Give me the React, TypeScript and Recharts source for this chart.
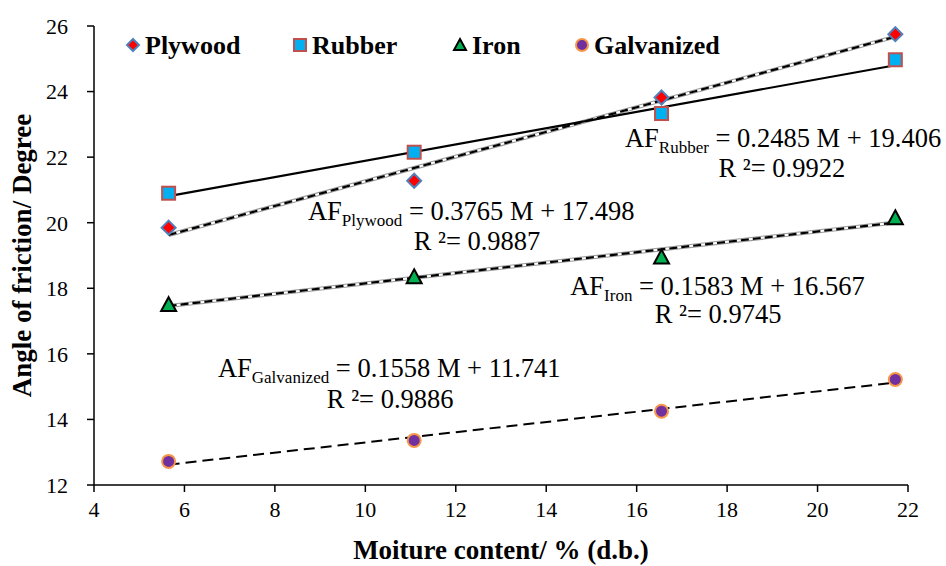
import React from 'react';
import {
  ComposedChart,
  Scatter,
  Line,
  XAxis,
  YAxis,
  ReferenceDot,
  Label,
} from 'recharts';

// moisture levels (% d.b.) and measured angle of friction (degree) per surface
const moisture = [5.65, 11.08, 16.55, 21.72];
const plywood = [19.85, 21.28, 23.82, 25.75];
const rubber = [20.9, 22.15, 23.33, 24.97];
const iron = [17.5, 18.35, 18.95, 20.15];
const galvanized = [12.72, 13.36, 14.25, 15.22];

// linear fits, same order as the surfaces: plywood, rubber, iron, galvanized
const surfaces = ['Plywood', 'Rubber', 'Iron', 'Galvanized'];
const fitSlope = [0.3765, 0.2485, 0.1583, 0.1558];
const fitIntercept = [17.498, 19.406, 16.567, 11.741];
const fitR2 = ['0.9887', '0.9922', '0.9745', '0.9886'];

const xTicks = [4, 6, 8, 10, 12, 14, 16, 18, 20, 22];
const yTicks = [12, 14, 16, 18, 20, 22, 24, 26];

const FONT = '"Liberation Serif", "Times New Roman", serif';

const toPoints = (ys: number[]) => moisture.map((x, i) => ({ x, y: ys[i] }));

const trend = (i: number) => {
  const xs = [moisture[0], moisture[moisture.length - 1]];
  return xs.map((x) => ({ x, y: fitSlope[i] * x + fitIntercept[i] }));
};

// marker shapes
const Diamond = ({ cx, cy, s = 7 }: any) => (
  <path
    d={`M${cx},${cy - s} L${cx + s},${cy} L${cx},${cy + s} L${cx - s},${cy} Z`}
    fill="#FF0000"
    stroke="#4F81BD"
    strokeWidth={2}
  />
);
const Square = ({ cx, cy, s = 6.5 }: any) => (
  <rect x={cx - s} y={cy - s} width={2 * s} height={2 * s} fill="#00B0F0" stroke="#C0504D" strokeWidth={2} />
);
const Triangle = ({ cx, cy, s = 7.5 }: any) => (
  <path
    d={`M${cx},${cy - s} L${cx + s},${cy + s * 0.85} L${cx - s},${cy + s * 0.85} Z`}
    fill="#00B050"
    stroke="#000"
    strokeWidth={2}
  />
);
const Circle = ({ cx, cy, r = 6.5 }: any) => (
  <circle cx={cx} cy={cy} r={r} fill="#7030A0" stroke="#F79646" strokeWidth={2} />
);

const markerFor = [Diamond, Square, Triangle, Circle];

// equation text anchored at a data position
const equationLabel = (name: string, i: number) => (props: any) => {
  const { x, y } = props.viewBox;
  return (
    <text x={x} y={y} fontFamily={FONT} fontSize={26.5} fill="#000">
      <tspan>AF</tspan>
      <tspan fontSize={17} dy={6}>{name}</tspan>
      <tspan dy={-6}>{` = ${fitSlope[i].toFixed(4)} M + ${fitIntercept[i].toFixed(3)}`}</tspan>
    </text>
  );
};

const r2Label = (i: number) => (props: any) => {
  const { x, y } = props.viewBox;
  return (
    <text x={x} y={y} fontFamily={FONT} fontSize={26.5} fill="#000" textAnchor="middle">
      {`R ²= ${fitR2[i]}`}
    </text>
  );
};

// where each equation block sits, in data units
const eqAnchor = [
  { x: 8.73, y: 20.08 },
  { x: 15.74, y: 22.31 },
  { x: 14.53, y: 17.79 },
  { x: 6.74, y: 15.29 },
];
const r2Anchor = [
  { x: 12.47, y: 19.17 },
  { x: 19.21, y: 21.39 },
  { x: 17.8, y: 16.94 },
  { x: 10.55, y: 14.35 },
];

const legendX = [133, 300, 460, 582];

const YTitle = (props: any) => {
  const { y, height } = props.viewBox;
  const cy = y + height / 2;
  return (
    <text
      x={22}
      y={cy}
      transform={`rotate(-90, 22, ${cy})`}
      textAnchor="middle"
      dominantBaseline="central"
      fontFamily={FONT}
      fontWeight="bold"
      fontSize={27}
      fill="#000"
    >
      Angle of friction/ Degree
    </text>
  );
};

export default function App() {
  const tickStyle = { fontFamily: FONT, fontSize: 22, fill: '#000' };
  const series = [plywood, rubber, iron, galvanized];

  return (
    <div style={{ position: 'absolute', left: 0, top: 0, width: 946, height: 566, background: '#fff' }}>
      <ComposedChart width={946} height={566} margin={{ top: 26, right: 38, left: 0, bottom: 0 }}>
        <XAxis
          type="number"
          dataKey="x"
          domain={[4, 22]}
          ticks={xTicks}
          allowDataOverflow
          height={81}
          tick={tickStyle}
          tickSize={7}
          tickMargin={9}
          stroke="#000"
          strokeWidth={1.5}
        >
          <Label
            value="Moiture content/ % (d.b.)"
            position="insideBottom"
            offset={7}
            style={{ fontFamily: FONT, fontWeight: 'bold', fontSize: 27, fill: '#000' }}
          />
        </XAxis>
        <YAxis
          type="number"
          dataKey="y"
          domain={[12, 26]}
          ticks={yTicks}
          allowDataOverflow
          width={94}
          tick={tickStyle}
          tickSize={7}
          tickMargin={19}
          stroke="#000"
          strokeWidth={1.5}
        >
          <Label content={<YTitle />} />
        </YAxis>

        {series.map((ys, i) => {
          const M = markerFor[i];
          return (
            <Scatter
              key={surfaces[i]}
              name={surfaces[i]}
              data={toPoints(ys)}
              isAnimationActive={false}
              shape={(p: any) => <M cx={p.cx} cy={p.cy} />}
            />
          );
        })}

        {/* plywood and iron trend: grey double line with black dashes on top */}
        {[0, 2].map((i) => [
          <Line key={`g${i}`} data={trend(i)} dataKey="y" stroke="#9a9a9a" strokeWidth={4} dot={false} activeDot={false} isAnimationActive={false} legendType="none" />,
          <Line key={`w${i}`} data={trend(i)} dataKey="y" stroke="#fff" strokeWidth={2} dot={false} activeDot={false} isAnimationActive={false} legendType="none" />,
          <Line key={`b${i}`} data={trend(i)} dataKey="y" stroke="#000" strokeWidth={2.2} strokeDasharray="8 4" dot={false} activeDot={false} isAnimationActive={false} legendType="none" />,
        ])}
        <Line data={trend(1)} dataKey="y" stroke="#000" strokeWidth={2.2} dot={false} activeDot={false} isAnimationActive={false} legendType="none" />
        <Line data={trend(3)} dataKey="y" stroke="#000" strokeWidth={2} strokeDasharray="11 6" dot={false} activeDot={false} isAnimationActive={false} legendType="none" />

        {surfaces.map((name, i) => (
          <ReferenceDot
            key={`eq${i}`}
            x={eqAnchor[i].x}
            y={eqAnchor[i].y}
            r={0}
            fill="none"
            stroke="none"
            ifOverflow="visible"
            label={{ content: equationLabel(name, i) }}
          />
        ))}
        {surfaces.map((name, i) => (
          <ReferenceDot
            key={`r2${i}`}
            x={r2Anchor[i].x}
            y={r2Anchor[i].y}
            r={0}
            fill="none"
            stroke="none"
            ifOverflow="visible"
            label={{ content: r2Label(i) }}
          />
        ))}
      </ComposedChart>

      {/* legend */}
      <svg width={946} height={80} style={{ position: 'absolute', left: 0, top: 0, pointerEvents: 'none' }}>
        {surfaces.map((name, i) => {
          const M = markerFor[i];
          const cx = legendX[i];
          return (
            <g key={name}>
              <M cx={cx} cy={45} s={i === 3 ? undefined : 6} r={6} />
              <text x={cx + 12} y={54} fontFamily={FONT} fontWeight="bold" fontSize={26} fill="#000">
                {name}
              </text>
            </g>
          );
        })}
      </svg>
    </div>
  );
}
